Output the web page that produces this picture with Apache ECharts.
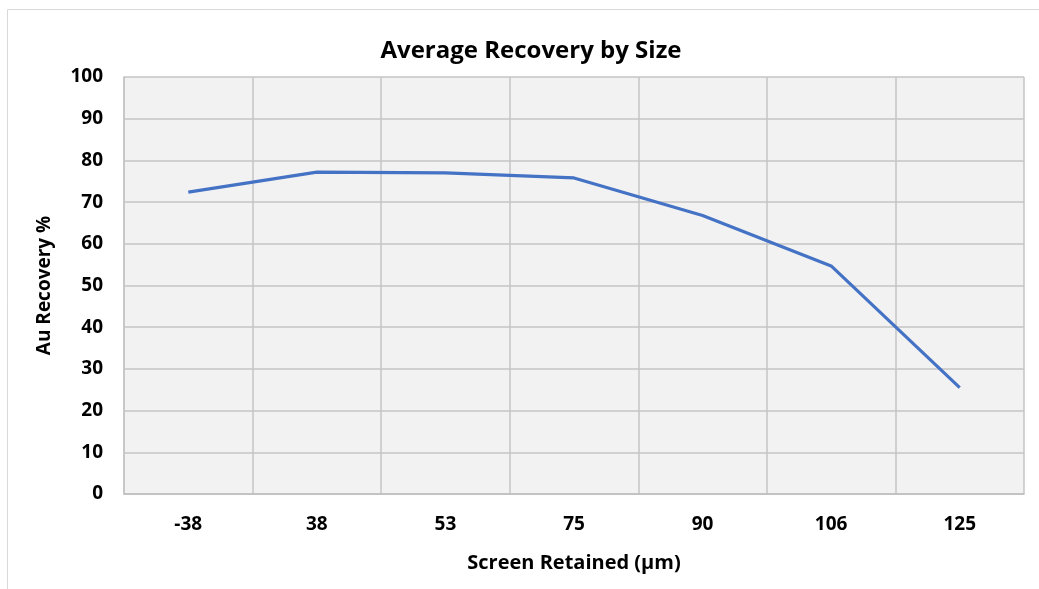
<!DOCTYPE html>
<html><head><meta charset="utf-8">
<script src="https://cdn.jsdelivr.net/npm/echarts@6/dist/echarts.min.js"></script>
<style>html,body{margin:0;padding:0;background:#fff}#c{width:1039px;height:589px}</style>
</head><body><div id="c"></div>
<script>
const chartTitle = 'Average Recovery by Size';
const categories = ['-38', '38', '53', '75', '90', '106', '125'];
const recovery = [72.4, 77.2, 77.0, 75.8, 66.8, 54.7, 25.5];
const yTicks = { min: 0, max: 100, interval: 10 };
const FONT = '"Open Sans", Lato, sans-serif';
const chart = echarts.init(document.getElementById('c'));
chart.setOption({
  animation: false,
  backgroundColor: '#fff',
  graphic: [
    { type: 'rect', shape: { x: 7.5, y: 9.5, width: 1040, height: 600 }, style: { fill: 'none', stroke: '#d9d9d9', lineWidth: 1 }, z: -10 },
    { type: 'text', x: 531, y: 51, style: { text: chartTitle, fontFamily: FONT, fontSize: 24, fontWeight: 'bold', fill: '#000', textAlign: 'center', textVerticalAlign: 'middle' } }
  ],
  grid: { left: 124, right: 15, top: 77, bottom: 95, show: true, backgroundColor: '#f2f2f2', borderWidth: 0 },
  xAxis: {
    type: 'category', data: categories, boundaryGap: true,
    name: 'Screen Retained (µm)', nameLocation: 'middle', nameGap: 59,
    nameTextStyle: { fontFamily: FONT, fontSize: 20, fontWeight: 'bold', color: '#000' },
    axisLine: { show: true, lineStyle: { color: '#bfbfbf', width: 1.5 } },
    axisTick: { show: false },
    axisLabel: { fontFamily: FONT, fontSize: 19, fontWeight: 'bold', color: '#000', margin: 21 },
    splitLine: { show: true, lineStyle: { color: '#c4c4c4', width: 1.5 } }
  },
  yAxis: {
    type: 'value', min: yTicks.min, max: yTicks.max, interval: yTicks.interval,
    name: 'Au Recovery %', nameLocation: 'middle', nameGap: 70, nameRotate: 90,
    nameTextStyle: { fontFamily: FONT, fontSize: 19, fontWeight: 'bold', color: '#000' },
    axisLine: { show: true, lineStyle: { color: '#c4c4c4', width: 1.5 } },
    axisTick: { show: false },
    axisLabel: { fontFamily: FONT, fontSize: 19, fontWeight: 'bold', color: '#000', margin: 21 },
    splitLine: { show: true, lineStyle: { color: '#c4c4c4', width: 1.5 } }
  },
  series: [{ type: 'line', data: recovery, showSymbol: false, symbol: 'none', lineStyle: { color: '#4472c4', width: 3.2 }, itemStyle: { color: '#4472c4' } }]
});
</script></body></html>
